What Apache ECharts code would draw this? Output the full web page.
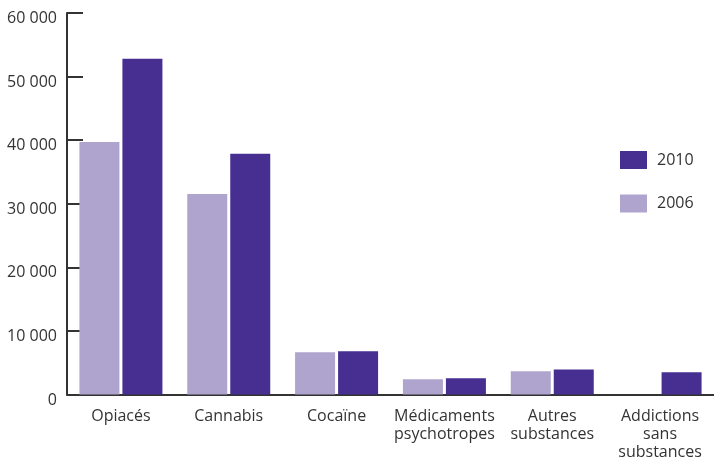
<!DOCTYPE html>
<html>
<head>
<meta charset="utf-8">
<script src="https://cdn.jsdelivr.net/npm/echarts@6/dist/echarts.min.js"></script>
<style>html,body{margin:0;padding:0;background:#fff}#c{width:714px;height:462px}</style>
</head>
<body>
<div id="c"></div>
<script>
const categories = ['Opiacés', 'Cannabis', 'Cocaïne', 'Médicaments\npsychotropes', 'Autres\nsubstances', 'Addictions\nsans\nsubstances'];
const values2006 = [39700, 31550, 6650, 2400, 3650, null];
const values2010 = [52800, 37850, 6800, 2550, 3950, 3500];
const seriesNames = ['2006', '2010'];

const chart = echarts.init(document.getElementById('c'), null, {renderer: 'canvas'});
const font = '"Open Sans", sans-serif';
chart.setOption({
  animation: false,
  textStyle: {fontFamily: font},
  legend: {
    data: [seriesNames[1], seriesNames[0]],
    orient: 'vertical',
    left: 620, top: 151, padding: 0,
    itemWidth: 27, itemHeight: 18, itemGap: 25.5,
    icon: 'rect',
    textStyle: {fontFamily: font, fontSize: 16, color: '#333', padding: [0, 0, 0, 5]}
  },
  grid: {left: 67, top: 13, width: 651, height: 381.5, containLabel: false},
  xAxis: {
    type: 'category',
    data: categories,
    axisLine: {lineStyle: {color: '#333', width: 2}},
    axisTick: {inside: true, length: 8, lineStyle: {color: '#333', width: 2}},
    axisLabel: {fontFamily: font, fontSize: 16, color: '#333', margin: 13, lineHeight: 18, interval: 0}
  },
  yAxis: {
    type: 'value', min: 0, max: 60000, interval: 10000,
    axisLine: {show: true, lineStyle: {color: '#333', width: 2}},
    axisTick: {show: true, inside: true, length: 16, lineStyle: {color: '#333', width: 2}},
    splitLine: {show: false},
    axisLabel: {
      fontFamily: font, fontSize: 16, color: '#333', margin: 10, verticalAlign: 'top', lineHeight: 11,
      formatter: v => String(v).replace(/\B(?=(\d{3})+(?!\d))/g, ' ')
    }
  },
  series: [
    {name: seriesNames[0], type: 'bar', data: values2006, barWidth: 40, barGap: '7.5%', itemStyle: {color: '#afa4ce'}},
    {name: seriesNames[1], type: 'bar', data: values2010, barWidth: 40, barGap: '7.5%', itemStyle: {color: '#472e91'}}
  ]
});
</script>
</body>
</html>
